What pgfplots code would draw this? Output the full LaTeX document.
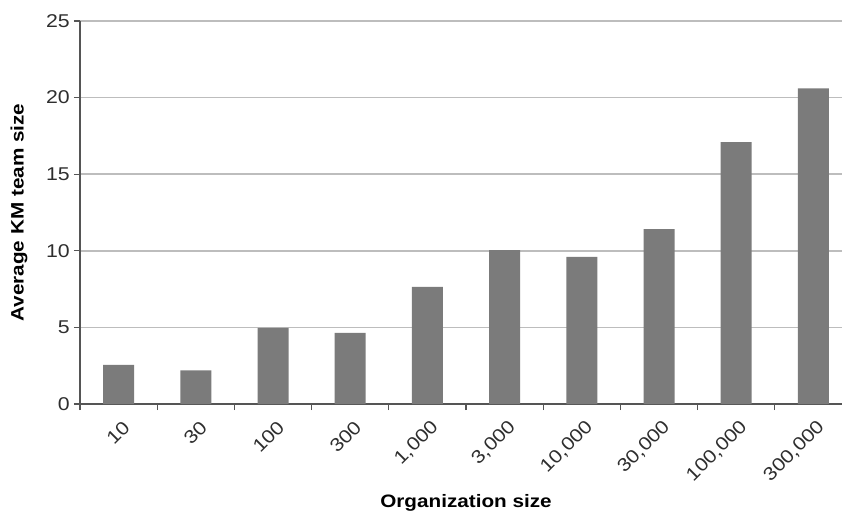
\documentclass[border=0pt]{standalone}
\usepackage{fontspec}
\setmainfont{Liberation Sans}[FakeStretch=1.15]
\usepackage{pgfplots}
\pgfplotsset{compat=1.18}
\definecolor{barg}{HTML}{7B7B7B}
\definecolor{axg}{HTML}{555555}
\definecolor{gridg}{HTML}{BDBDBD}
\definecolor{tickc}{HTML}{2E2E2E}
\begin{document}
\begin{tikzpicture}
\begin{axis}[name=ax, scale only axis, width=762pt, height=383pt,
  xmin=-0.5, xmax=9.37, ymin=0, ymax=25,
  axis x line=bottom, axis y line=left,
  axis line style={-, draw=axg, line width=1.5pt},
  ytick={0,5,...,25}, ymajorgrids,
  grid style={draw=gridg, line width=1.5pt},
  xtick={0,...,9},
  xticklabels={10,30,100,300,{1,000},{3,000},{10,000},{30,000},{100,000},{300,000}},
  minor xtick={-0.5,0.5,...,8.5},
  tick align=outside, major tick length=6pt, minor tick length=6pt,
  every tick/.style={draw=axg, line width=1.2pt},
  major x tick style={draw=none},
  /pgf/number format/assume math mode=true,
  ticklabel style={font=\fontsize{18.5}{21}\selectfont, text=tickc},
  xticklabel style={xshift=8pt, yshift=-14pt, rotate=45, anchor=east, inner sep=0pt},
  yticklabel style={inner sep=0pt, xshift=-4pt},
  label style={font=\fontsize{18}{21}\selectfont\bfseries, text=black},
  xlabel={Organization size},
  ylabel={Average KM team size},
  xlabel style={at={(axis description cs:0.5,0)}, anchor=center, yshift=-99pt, xshift=5pt},
  ylabel style={at={(axis description cs:0,0.5)}, anchor=center, yshift=61pt},
  ybar, bar width=31pt,
]
\addplot[fill=barg, draw=none] coordinates {
(0,2.55) (1,2.2) (2,4.97) (3,4.65) (4,7.65) (5,10.05) (6,9.6) (7,11.42) (8,17.1) (9,20.6)
};
\end{axis}
\pgfresetboundingbox
\path[use as bounding box] ([shift={(-80pt,-110pt)}]ax.south west) rectangle ([shift={(0pt,21pt)}]ax.north east);
\end{tikzpicture}
\end{document}
